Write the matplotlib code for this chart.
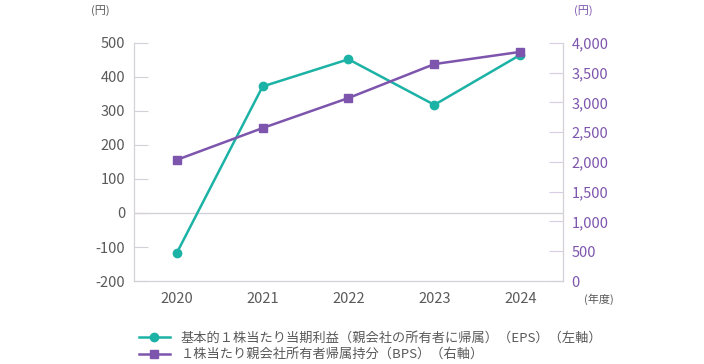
import matplotlib
matplotlib.use("Agg")
import matplotlib.pyplot as plt
from matplotlib.lines import Line2D

plt.rcParams['font.family'] = ['Noto Sans CJK JP', 'DejaVu Sans']
plt.rcParams['axes.unicode_minus'] = False

# データ
years = ["2020", "2021", "2022", "2023", "2024"]
eps = [-118, 372, 452, 318, 465]
bps = [2035, 2570, 3075, 3645, 3850]

eps_label = "基本的１株当たり当期利益（親会社の所有者に帰属）（EPS）（左軸）"
bps_label = "１株当たり親会社所有者帰属持分（BPS）（右軸）"

teal = "#1cb2a5"
purple = "#7d55ad"
gray_text = "#5a5a5a"
grid_c = "#d3d0d8"

fig = plt.figure(figsize=(7.04, 3.64), dpi=100)
ax = fig.add_axes([0.190, 0.228, 0.610, 0.654])
ax2 = ax.twinx()

x = range(len(years))
ax.plot(x, eps, color=teal, marker='o', markersize=6, linewidth=1.8, zorder=3)
ax2.plot(x, bps, color=purple, marker='s', markersize=6, linewidth=1.8, zorder=3)

ax.set_xlim(-0.5, 4.5)
ax.set_ylim(-200, 500)
ax2.set_ylim(0, 4000)
ax.set_xticks(list(x))
ax.set_xticklabels(years)
ax.set_yticks(range(-200, 501, 100))
ax2.set_yticks(range(0, 4001, 500))
ax2.set_yticklabels([f"{v:,}" for v in range(0, 4001, 500)])

ax.axhline(0, color=grid_c, linewidth=1, zorder=1)

for a in (ax, ax2):
    a.spines["top"].set_visible(False)
    a.spines["left"].set_color(grid_c)
    a.spines["right"].set_color(grid_c)
    a.spines["bottom"].set_color(grid_c)

ax.tick_params(axis='y', direction='in', length=10, color=grid_c,
               labelsize=10.5, labelcolor=gray_text, pad=6)
ax.tick_params(axis='x', length=0, labelsize=10.5, labelcolor=gray_text, pad=8)
ax2.tick_params(axis='y', direction='in', length=10, color="#d9cde6",
                labelsize=10.5, labelcolor=purple, pad=6)
ax.get_yticklines()[-2].set_color("#000000")

fig.text(0.142, 0.985, "(円)", fontsize=8, color=gray_text, va='top', ha='center')
fig.text(0.828, 0.985, "(円)", fontsize=8, color=purple, va='top', ha='center')
fig.text(0.85, 0.178, "(年度)", fontsize=8, color=gray_text, va='center', ha='center')

handles = [
    Line2D([], [], color=teal, marker='o', markersize=6, linewidth=1.8),
    Line2D([], [], color=purple, marker='s', markersize=6, linewidth=1.8),
]
fig.legend(handles, [eps_label, bps_label], loc='lower left',
           bbox_to_anchor=(0.18, -0.025), frameon=False, fontsize=9.5,
           handlelength=2.4, handletextpad=0.8, labelspacing=0.3,
           labelcolor=gray_text)

fig.savefig("out.png", dpi=100)
